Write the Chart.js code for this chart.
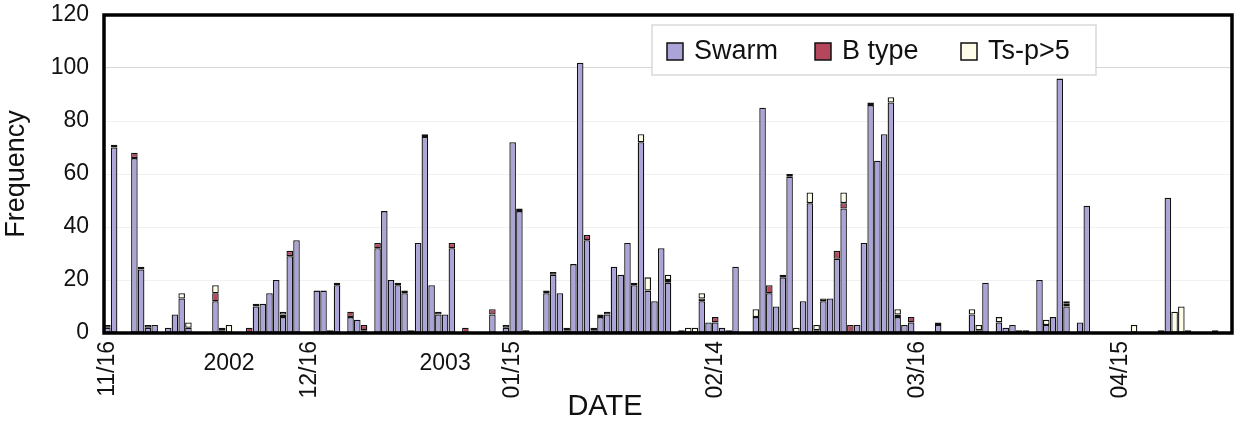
<!DOCTYPE html>
<html>
<head>
<meta charset="utf-8">
<script src="https://cdn.jsdelivr.net/npm/chart.js@4.4.0/dist/chart.umd.min.js"></script>
<style>
  html, body { margin: 0; padding: 0; background: #fff; }
</style>
</head>
<body>
<canvas id="quakeChart" width="1236" height="431"></canvas>
<script>
// daily categories, 2002/11/16 .. 2003/05/01
const startDate = new Date(2002, 10, 16);
const dayCount = 167;
const tickLabels = ['11/16', '12/16', '01/15', '02/14', '03/16', '04/15'];
const yearLabels = ['2002', '2003'];
const yTicks = [0, 20, 40, 60, 80, 100, 120];

const swarm = [
  2, 70, 0, 0, 66, 24, 2, 3, 0, 2,
  7, 13, 2, 0, 0, 0, 12, 1, 0, 0,
  0, 0, 10, 11, 15, 20, 6, 29, 35, 0,
  0, 16, 16, 1, 18, 0, 6, 5, 1, 0,
  32, 46, 20, 18, 15, 1, 34, 74, 18, 7,
  7, 32, 0, 0, 0, 0, 0, 7, 0, 2,
  72, 46, 1, 0, 0, 15, 22, 15, 1, 26,
  102, 35, 1, 6, 7, 25, 22, 34, 18, 72,
  16, 12, 32, 19, 0, 1, 0, 0, 12, 4,
  4, 2, 1, 25, 0, 0, 6, 85, 15, 10,
  21, 59, 0, 12, 49, 1, 12, 13, 28, 47,
  0, 3, 34, 86, 65, 75, 87, 6, 3, 4,
  0, 0, 0, 3, 0, 0, 0, 0, 7, 1,
  19, 0, 4, 2, 3, 1, 1, 0, 20, 3,
  6, 96, 10, 0, 4, 48, 0, 0, 0, 0,
  0, 0, 0, 0, 0, 0, 1, 51, 0, 0,
  1, 0, 0, 0, 1, 0, 0
];
const bType = [
  1, 1, 0, 0, 2, 1, 1, 0, 0, 0,
  0, 0, 0, 0, 0, 0, 3, 0, 0, 0,
  0, 2, 1, 0, 0, 0, 1, 2, 0, 0,
  0, 0, 0, 0, 1, 0, 2, 0, 2, 0,
  2, 0, 0, 1, 1, 0, 0, 1, 0, 1,
  0, 2, 0, 2, 0, 0, 0, 2, 0, 1,
  0, 1, 0, 0, 0, 1, 1, 0, 0, 0,
  0, 2, 0, 1, 1, 0, 0, 0, 0, 0,
  0, 0, 0, 1, 0, 0, 0, 0, 1, 0,
  2, 0, 0, 0, 0, 0, 0, 0, 3, 0,
  1, 1, 0, 0, 0, 0, 1, 0, 3, 2,
  3, 0, 0, 1, 0, 0, 0, 1, 0, 2,
  0, 0, 0, 1, 0, 0, 0, 0, 0, 0,
  0, 0, 0, 0, 0, 0, 0, 0, 0, 0,
  0, 0, 1, 0, 0, 0, 0, 0, 0, 0,
  0, 0, 0, 0, 0, 0, 0, 0, 0, 0,
  0, 0, 0, 0, 0, 0, 0
];
const tsp5 = [
  0, 0, 0, 0, 0, 0, 0, 0, 0, 0,
  0, 2, 2, 0, 0, 0, 3, 1, 3, 0,
  0, 0, 0, 0, 0, 0, 1, 0, 0, 0,
  0, 0, 0, 0, 0, 0, 0, 0, 0, 0,
  0, 0, 0, 0, 0, 0, 0, 0, 0, 0,
  0, 0, 0, 0, 0, 0, 0, 0, 0, 0,
  0, 0, 0, 0, 0, 0, 0, 0, 1, 0,
  0, 0, 1, 0, 0, 0, 0, 0, 1, 3,
  5, 0, 0, 2, 0, 0, 2, 2, 2, 0,
  0, 0, 0, 0, 0, 0, 3, 0, 0, 0,
  0, 0, 2, 0, 4, 2, 0, 0, 0, 4,
  0, 0, 0, 0, 0, 0, 2, 2, 0, 0,
  0, 0, 0, 0, 0, 0, 0, 0, 2, 2,
  0, 0, 2, 0, 0, 0, 0, 0, 0, 2,
  0, 0, 1, 0, 0, 0, 0, 0, 0, 0,
  0, 0, 3, 0, 0, 0, 0, 0, 8, 10,
  0, 0, 0, 0, 0, 0, 0
];

const pad = n => String(n).padStart(2, '0');
const dates = [];
for (let i = 0; i < dayCount; i++) {
  const d = new Date(startDate.getFullYear(), startDate.getMonth(), startDate.getDate() + i);
  dates.push(pad(d.getMonth() + 1) + '/' + pad(d.getDate()));
}

const FONT = '"Liberation Sans", Arial, sans-serif';

// frame, year labels, DATE title and legend box drawn on top
const extras = {
  id: 'extras',
  afterDraw(chart) {
    const { ctx, chartArea: a, scales: { x } } = chart;
    ctx.save();
    ctx.strokeStyle = '#000';
    ctx.lineWidth = 3.5;
    ctx.strokeRect(a.left, a.top, a.right - a.left, a.bottom - a.top);

    ctx.fillStyle = '#111';
    ctx.textAlign = 'center';
    ctx.textBaseline = 'middle';
    ctx.font = '23px ' + FONT;
    const yearAt = [18, 50];
    yearLabels.forEach((t, k) => ctx.fillText(t, x.getPixelForValue(yearAt[k]), 364));
    ctx.font = '29px ' + FONT;
    ctx.fillText('DATE', 605, 407);

    // legend
    const lx = 652, ly = 25, lw = 444, lh = 50;
    ctx.fillStyle = '#fff';
    ctx.fillRect(lx, ly, lw, lh);
    ctx.strokeStyle = '#cfcfcf';
    ctx.lineWidth = 1.2;
    ctx.strokeRect(lx, ly, lw, lh);
    const boxX = [667, 815, 961];
    ctx.font = '27px ' + FONT;
    ctx.textAlign = 'left';
    chart.data.datasets.forEach((ds, k) => {
      ctx.fillStyle = ds.backgroundColor;
      ctx.fillRect(boxX[k], 43, 16, 17);
      ctx.strokeStyle = '#111';
      ctx.lineWidth = 1.5;
      ctx.strokeRect(boxX[k], 43, 16, 17);
      ctx.fillStyle = '#111';
      ctx.fillText(ds.label, boxX[k] + 27, 52);
    });
    ctx.restore();
  }
};

new Chart(document.getElementById('quakeChart'), {
  type: 'bar',
  data: {
    labels: dates,
    datasets: [
      { label: 'Swarm', data: swarm, backgroundColor: '#aaa4d8' },
      { label: 'B type', data: bType, backgroundColor: '#b5475c' },
      { label: 'Ts-p>5', data: tsp5, backgroundColor: '#fdfdea' }
    ]
  },
  options: {
    responsive: false,
    animation: false,
    layout: { padding: { top: 15, right: 4, left: 0, bottom: 0 } },
    datasets: {
      bar: {
        categoryPercentage: 1,
        barPercentage: 0.97,
        borderColor: '#111',
        borderWidth: 1.3,
        borderSkipped: false
      }
    },
    plugins: {
      legend: { display: false },
      tooltip: { enabled: false }
    },
    scales: {
      x: {
        stacked: true,
        afterFit: s => { s.height = 98; s.paddingLeft = 0; s.paddingRight = 0; },
        grid: { display: false, drawTicks: false },
        border: { display: false },
        ticks: {
          autoSkip: false,
          minRotation: 90,
          maxRotation: 90,
          padding: 8,
          color: '#111',
          font: { family: FONT, size: 23 },
          callback: function (v) {
            const l = this.getLabelForValue(v);
            return tickLabels.includes(l) ? l : '';
          }
        }
      },
      y: {
        stacked: true,
        min: yTicks[0],
        max: yTicks[yTicks.length - 1],
        afterFit: s => { s.width = 104; s.paddingTop = 0; s.paddingBottom = 0; },
        grid: {
          drawTicks: false,
          color: c => c.tick.value === 100 ? '#d6d6d6' : '#f1f1f1'
        },
        border: { display: false },
        ticks: {
          stepSize: 20,
          padding: 15,
          color: '#111',
          font: { family: FONT, size: 23 }
        },
        title: {
          display: true,
          text: 'Frequency',
          color: '#111',
          padding: { top: 0, bottom: 4 },
          font: { family: FONT, size: 27 }
        }
      }
    }
  },
  plugins: [extras]
});
</script>
</body>
</html>
